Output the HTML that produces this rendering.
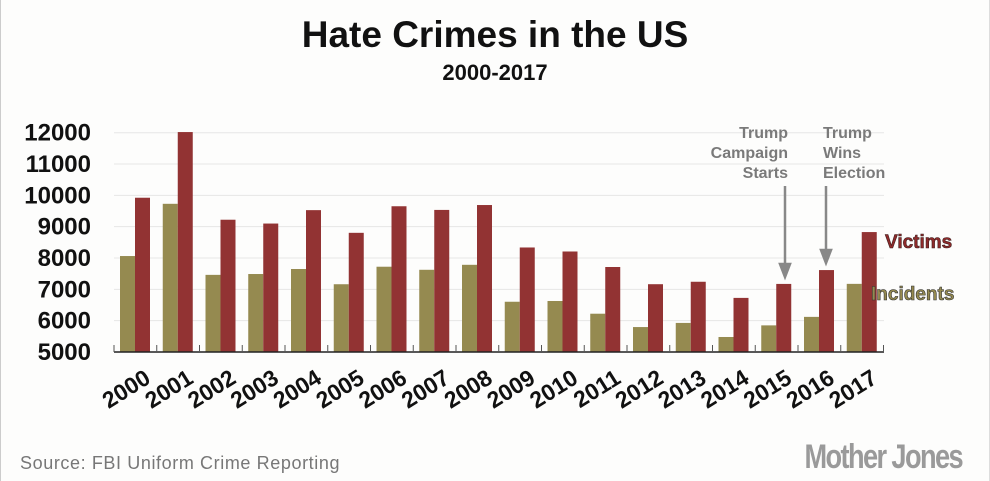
<!DOCTYPE html>
<html><head><style>
body{margin:0;background:#fff}
svg{display:block}
</style></head><body>
<svg width="990" height="481" xmlns="http://www.w3.org/2000/svg" font-family="Liberation Sans, sans-serif">
<rect x="0" y="0" width="990" height="481" fill="#fdfdfc"/>
<line x1="0.5" y1="0" x2="0.5" y2="481" stroke="#ccc"/>
<line x1="989.5" y1="0" x2="989.5" y2="481" stroke="#ddd"/>
<text x="495" y="47" text-anchor="middle" font-size="37" font-weight="bold" fill="#111">Hate Crimes in the US</text>
<text x="495" y="80" text-anchor="middle" font-size="22" font-weight="bold" fill="#111">2000-2017</text>
<g id="grid" stroke="#e6e6e6" stroke-width="1"></g>
<g id="bars"></g>
<line x1="114" y1="352" x2="884" y2="352" stroke="#222" stroke-width="1.5"/>
<g id="ticks" stroke="#555"></g>
<g id="ylab" font-size="24" font-weight="bold" fill="#111" text-anchor="end"></g>
<g id="xlab" font-size="23" font-weight="bold" fill="#111" text-anchor="end"></g>
<g font-size="16" font-weight="bold" fill="#7a7a7a">
<text x="788" y="138" text-anchor="end">Trump</text>
<text x="788" y="158" text-anchor="end">Campaign</text>
<text x="788" y="178" text-anchor="end">Starts</text>
<text x="823" y="138">Trump</text>
<text x="823" y="158">Wins</text>
<text x="823" y="178">Election</text>
</g>
<g stroke="#888" stroke-width="2.5" fill="#888">
<line x1="785" y1="186" x2="785" y2="268"/><polygon points="780,264 790,264 785,277"/>
<line x1="826" y1="186" x2="826" y2="254"/><polygon points="821,250 831,250 826,263"/>
</g>
<text x="885" y="248" font-size="19" font-weight="bold" fill="#8f2b2b" stroke="#3a1a1a" stroke-width="0.6">Victims</text>
<text x="871" y="300" font-size="19" font-weight="bold" fill="#958a50" stroke="#333" stroke-width="0.6">Incidents</text>
<text x="20" y="469" font-size="18" fill="#777" letter-spacing="0.6">Source: FBI Uniform Crime Reporting</text>
<text x="962" y="468" text-anchor="end" font-size="34" font-weight="bold" fill="#9a9a9a" letter-spacing="-2" transform="translate(962,0) scale(0.8,1) translate(-962,0)">Mother Jones</text>
<script>
var inc=[8063,9730,7462,7489,7649,7163,7722,7624,7783,6604,6628,6222,5796,5928,5479,5850,6121,7175];
var vic=[9924,12020,9222,9100,9528,8804,9652,9535,9691,8336,8208,7713,7164,7242,6727,7173,7615,8828];
var ns="http://www.w3.org/2000/svg";
function el(p,t,a,txt){var e=document.createElementNS(ns,t);for(var k in a)e.setAttribute(k,a[k]);if(txt)e.textContent=txt;document.getElementById(p).appendChild(e);}
function y(v){return 352-(v-5000)*0.03133;}
for(var v=6000;v<=12000;v+=1000){el('grid','line',{x1:114,x2:884,y1:y(v),y2:y(v)});}
for(var v=5000;v<=12000;v+=1000){el('ylab','text',{x:91,y:y(v)+8},String(v));}
var sp=42.75;
for(var i=0;i<=18;i++){var x=114+i*sp;el('ticks','line',{x1:x,x2:x,y1:345,y2:352});}
for(var i=0;i<18;i++){var x=114+i*sp;
el('bars','rect',{x:x+6,y:y(inc[i]),width:15,height:352-y(inc[i]),fill:'#958a50'});
el('bars','rect',{x:x+21,y:y(vic[i]),width:15,height:352-y(vic[i]),fill:'#923333'});
var tx=x+38,ty=382;
el('xlab','text',{x:tx,y:ty,transform:'rotate(-32 '+tx+' '+ty+')'},String(2000+i));}
</script>
</svg>
</body></html>
